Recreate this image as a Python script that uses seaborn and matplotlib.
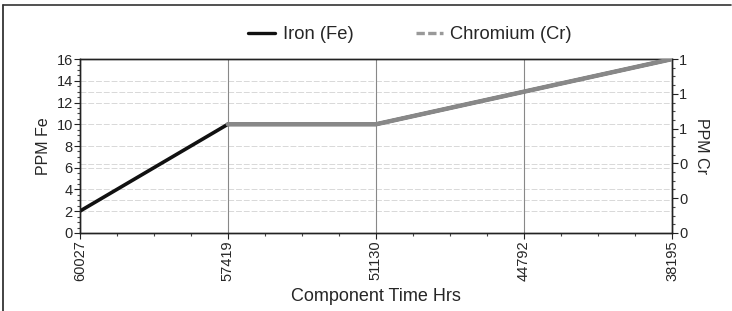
import numpy as np
import pandas as pd
import seaborn as sns
import matplotlib.pyplot as plt
from matplotlib.lines import Line2D
from matplotlib.ticker import MultipleLocator, FormatStrFormatter

hours = ['60027', '57419', '51130', '44792', '38195']
fe_ppm = [2, 10, 10, 13, 16]
cr_ppm = [np.nan, 0.625, 0.625, 0.8125, 1.0]

sns.set_theme(style='white')
plt.rcParams['font.family'] = ['Liberation Sans', 'DejaVu Sans']

pos = list(range(len(hours)))
df = pd.DataFrame({'pos': pos, 'fe': fe_ppm, 'cr': cr_ppm})

fig = plt.figure(figsize=(7.32, 3.11), dpi=100)
ax = fig.add_axes([0.109, 0.251, 0.809, 0.559])
ax2 = ax.twinx()

# scan-like faint horizontal grid
for yv in [2, 3, 4, 6, 6.3, 8, 10, 12, 13, 14]:
    ax.axhline(yv, color='#d8d8d8', lw=0.7, ls=(0, (6, 2)), zorder=0)
for xv in pos[1:-1]:
    ax.axvline(xv, color='#888888', lw=0.8, zorder=1)

sns.lineplot(data=df, x='pos', y='fe', ax=ax, color='#111111', lw=2.6, zorder=3, legend=False)
sns.lineplot(data=df.dropna(), x='pos', y='cr', ax=ax2, color='#888888', lw=3.2, zorder=3, legend=False)

ax.set_xlim(0, len(hours) - 1)
ax.set_ylim(0, 16)
ax2.set_ylim(0, 1)
ax.set_xticks(pos)
ax.set_xticklabels(hours, rotation=90, fontsize=10.5)
ax.xaxis.set_minor_locator(MultipleLocator(0.25))
ax.yaxis.set_major_locator(MultipleLocator(2))
ax.yaxis.set_minor_locator(MultipleLocator(0.5))
ax2.yaxis.set_major_locator(MultipleLocator(0.2))
ax2.yaxis.set_minor_locator(MultipleLocator(0.05))
ax2.yaxis.set_major_formatter(FormatStrFormatter('%.0f'))

for a in (ax, ax2):
    a.tick_params(which='major', length=4, width=0.8, color='#222222', labelsize=10.5, pad=1)
    a.tick_params(which='minor', length=2, width=0.8, color='#444444')
    for s in a.spines.values():
        s.set_color('#222222')
        s.set_linewidth(1.0)
ax.tick_params(axis='x', which='both', bottom=True, direction='out')
ax.tick_params(axis='y', which='both', left=True)
ax2.tick_params(axis='y', which='both', right=True)

ax.set_xlabel('Component Time Hrs', fontsize=13, labelpad=5)
ax.set_ylabel('PPM Fe', fontsize=11.5, labelpad=4)
ax2.set_ylabel('PPM Cr', fontsize=11.5, rotation=-90, labelpad=16)

h1 = Line2D([], [], color='#111111', lw=2.4)
h2 = Line2D([], [], color='#999999', lw=2.4, ls=(0, (2.5, 1)))
fig.legend([h1, h2], ['Iron (Fe)', 'Chromium (Cr)'], loc='center', bbox_to_anchor=(0.56, 0.888),
           ncol=2, frameon=False, fontsize=13.2, handlelength=1.5, columnspacing=3.4, handletextpad=0.4)

# scanned frame: only left and top edges visible
fig.add_artist(Line2D([0.004, 0.004], [0.0, 0.984], transform=fig.transFigure, color='#222222', lw=1.2))
fig.add_artist(Line2D([0.004, 0.998], [0.984, 0.984], transform=fig.transFigure, color='#333333', lw=1.2))

fig.savefig('out.png', dpi=100)
